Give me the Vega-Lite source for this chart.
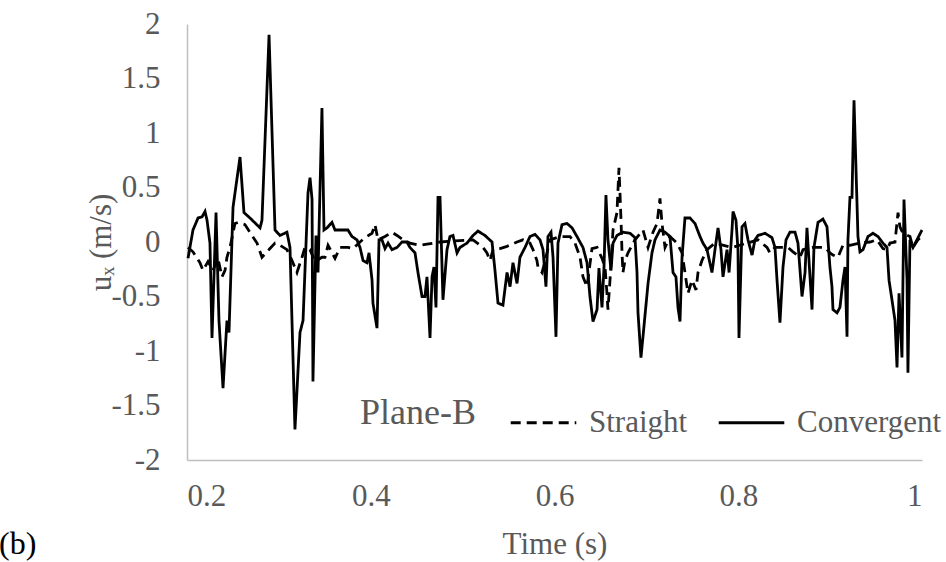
{
  "$schema": "https://vega.github.io/schema/vega-lite/v6.json",
  "width": 735,
  "height": 436,
  "autosize": {"type": "none"},
  "padding": {"left": 187, "top": 24, "right": 24, "bottom": 102},
  "background": "white",
  "title": {"text": "(b)", "orient": "bottom", "anchor": "start", "frame": "bounds", "font": "Liberation Serif", "fontSize": 32, "fontWeight": "normal", "color": "black", "dx": -86, "dy": -30, "offset": 0},
  "config": {
    "view": {"stroke": null},
    "font": "Liberation Serif",
    "axis": {"labelFont": "Liberation Serif", "titleFont": "Liberation Serif", "labelColor": "#595959", "titleColor": "#595959", "labelFontSize": 31, "titleFontSize": 31, "titleFontWeight": "normal", "domainColor": "#bfbfbf", "domainWidth": 1.5, "ticks": false, "grid": false},
    "legend": {"labelFont": "Liberation Serif", "titleFont": "Liberation Serif"}
  },
  "datasets": {
    "conv": [
      {"t":0.2011,"v":-0.15},{"t":0.2065,"v":0.11},{"t":0.2120,"v":0.22},{"t":0.2163,"v":0.23},{"t":0.2196,"v":0.28},{"t":0.2218,"v":0.20},{"t":0.2250,"v":-0.01},{"t":0.2272,"v":-0.88},{"t":0.2316,"v":0.27},{"t":0.2348,"v":-0.72},{"t":0.2392,"v":-1.34},{"t":0.2435,"v":-0.72},{"t":0.2457,"v":-0.83},{"t":0.2501,"v":0.32},{"t":0.2577,"v":0.78},{"t":0.2620,"v":0.27},{"t":0.2686,"v":0.22},{"t":0.2795,"v":0.13},{"t":0.2816,"v":0.20},{"t":0.2893,"v":1.90},{"t":0.2958,"v":0.11},{"t":0.3012,"v":0.06},{"t":0.3088,"v":0.09},{"t":0.3121,"v":-0.05},{"t":0.3175,"v":-1.72},{"t":0.3230,"v":-0.83},{"t":0.3263,"v":-0.72},{"t":0.3317,"v":0.45},{"t":0.3339,"v":0.59},{"t":0.3361,"v":0.39},{"t":0.3371,"v":-1.28},{"t":0.3404,"v":0.06},{"t":0.3426,"v":-0.28},{"t":0.3469,"v":1.23},{"t":0.3491,"v":0.11},{"t":0.3524,"v":0.13},{"t":0.3578,"v":0.18},{"t":0.3611,"v":0.11},{"t":0.3687,"v":0.11},{"t":0.3752,"v":0.11},{"t":0.3796,"v":0.05},{"t":0.3850,"v":0.02},{"t":0.3883,"v":-0.05},{"t":0.3916,"v":-0.17},{"t":0.3959,"v":-0.19},{"t":0.3981,"v":-0.10},{"t":0.4014,"v":-0.35},{"t":0.4024,"v":-0.56},{"t":0.4068,"v":-0.79},{"t":0.4090,"v":0.02},{"t":0.4122,"v":0.02},{"t":0.4155,"v":-0.06},{"t":0.4188,"v":-0.01},{"t":0.4231,"v":-0.07},{"t":0.4286,"v":-0.05},{"t":0.4340,"v":0.00},{"t":0.4394,"v":0.00},{"t":0.4427,"v":-0.05},{"t":0.4482,"v":-0.10},{"t":0.4514,"v":-0.28},{"t":0.4558,"v":-0.50},{"t":0.4590,"v":-0.50},{"t":0.4612,"v":-0.32},{"t":0.4645,"v":-0.88},{"t":0.4667,"v":-0.32},{"t":0.4688,"v":-0.23},{"t":0.4710,"v":-0.60},{"t":0.4732,"v":0.41},{"t":0.4754,"v":0.41},{"t":0.4786,"v":-0.53},{"t":0.4830,"v":-0.07},{"t":0.4862,"v":0.05},{"t":0.4895,"v":0.06},{"t":0.4939,"v":-0.10},{"t":0.4971,"v":-0.05},{"t":0.5048,"v":-0.01},{"t":0.5113,"v":0.06},{"t":0.5167,"v":0.10},{"t":0.5243,"v":0.06},{"t":0.5320,"v":0.00},{"t":0.5352,"v":-0.26},{"t":0.5385,"v":-0.56},{"t":0.5439,"v":-0.58},{"t":0.5483,"v":-0.28},{"t":0.5516,"v":-0.41},{"t":0.5548,"v":-0.19},{"t":0.5592,"v":-0.38},{"t":0.5624,"v":-0.14},{"t":0.5679,"v":-0.05},{"t":0.5733,"v":0.05},{"t":0.5788,"v":0.07},{"t":0.5842,"v":0.02},{"t":0.5875,"v":-0.07},{"t":0.5907,"v":-0.41},{"t":0.5929,"v":0.05},{"t":0.5962,"v":0.09},{"t":0.5984,"v":-0.14},{"t":0.6016,"v":-0.87},{"t":0.6038,"v":-0.01},{"t":0.6082,"v":0.16},{"t":0.6136,"v":0.17},{"t":0.6191,"v":0.13},{"t":0.6245,"v":0.05},{"t":0.6310,"v":-0.05},{"t":0.6354,"v":-0.19},{"t":0.6386,"v":-0.50},{"t":0.6419,"v":-0.73},{"t":0.6463,"v":-0.62},{"t":0.6484,"v":-0.24},{"t":0.6517,"v":-0.60},{"t":0.6539,"v":-0.23},{"t":0.6560,"v":0.43},{"t":0.6582,"v":0.02},{"t":0.6615,"v":-0.26},{"t":0.6637,"v":-0.01},{"t":0.6680,"v":0.06},{"t":0.6745,"v":0.09},{"t":0.6822,"v":0.08},{"t":0.6876,"v":0.04},{"t":0.6898,"v":-0.28},{"t":0.6909,"v":-0.65},{"t":0.6941,"v":-1.06},{"t":0.6963,"v":-0.87},{"t":0.7018,"v":-0.38},{"t":0.7061,"v":-0.10},{"t":0.7094,"v":0.02},{"t":0.7148,"v":0.11},{"t":0.7203,"v":0.09},{"t":0.7257,"v":0.05},{"t":0.7290,"v":-0.28},{"t":0.7322,"v":-0.32},{"t":0.7344,"v":-0.60},{"t":0.7366,"v":-0.73},{"t":0.7388,"v":-0.14},{"t":0.7420,"v":0.22},{"t":0.7475,"v":0.22},{"t":0.7529,"v":0.17},{"t":0.7584,"v":0.05},{"t":0.7616,"v":-0.01},{"t":0.7660,"v":-0.07},{"t":0.7714,"v":-0.28},{"t":0.7747,"v":-0.07},{"t":0.7780,"v":0.13},{"t":0.7812,"v":-0.07},{"t":0.7834,"v":-0.32},{"t":0.7878,"v":-0.07},{"t":0.7900,"v":-0.28},{"t":0.7932,"v":0.11},{"t":0.7943,"v":0.28},{"t":0.7975,"v":0.20},{"t":0.7997,"v":-0.07},{"t":0.8008,"v":-0.88},{"t":0.8041,"v":0.14},{"t":0.8073,"v":0.17},{"t":0.8106,"v":0.02},{"t":0.8150,"v":-0.12},{"t":0.8182,"v":0.02},{"t":0.8215,"v":0.06},{"t":0.8291,"v":0.08},{"t":0.8367,"v":0.04},{"t":0.8400,"v":-0.05},{"t":0.8422,"v":-0.35},{"t":0.8454,"v":-0.74},{"t":0.8487,"v":-0.23},{"t":0.8520,"v":0.02},{"t":0.8563,"v":0.09},{"t":0.8618,"v":0.09},{"t":0.8650,"v":-0.01},{"t":0.8694,"v":-0.50},{"t":0.8727,"v":-0.28},{"t":0.8748,"v":0.13},{"t":0.8781,"v":-0.32},{"t":0.8803,"v":-0.62},{"t":0.8824,"v":-0.05},{"t":0.8868,"v":0.18},{"t":0.8922,"v":0.21},{"t":0.8966,"v":0.14},{"t":0.8998,"v":-0.23},{"t":0.9020,"v":-0.41},{"t":0.9031,"v":-0.62},{"t":0.9075,"v":-0.65},{"t":0.9107,"v":-0.60},{"t":0.9140,"v":-0.35},{"t":0.9162,"v":-0.23},{"t":0.9184,"v":-0.87},{"t":0.9194,"v":0.02},{"t":0.9216,"v":0.41},{"t":0.9238,"v":0.41},{"t":0.9260,"v":1.30},{"t":0.9303,"v":0.05},{"t":0.9325,"v":-0.09},{"t":0.9358,"v":-0.07},{"t":0.9412,"v":0.05},{"t":0.9467,"v":0.08},{"t":0.9521,"v":0.05},{"t":0.9575,"v":-0.01},{"t":0.9619,"v":-0.05},{"t":0.9641,"v":-0.35},{"t":0.9673,"v":-0.53},{"t":0.9706,"v":-0.72},{"t":0.9728,"v":-1.15},{"t":0.9750,"v":-0.47},{"t":0.9782,"v":-1.06},{"t":0.9804,"v":0.39},{"t":0.9837,"v":-0.35},{"t":0.9847,"v":-1.20},{"t":0.9869,"v":0.02},{"t":0.9902,"v":-0.05},{"t":0.9945,"v":0.02},{"t":1.0,"v":0.11}
    ],
    "straight": [
      {"t":0.2011,"v":-0.05},{"t":0.2065,"v":-0.09},{"t":0.2141,"v":-0.19},{"t":0.2174,"v":-0.26},{"t":0.2229,"v":-0.18},{"t":0.2283,"v":-0.26},{"t":0.2337,"v":-0.15},{"t":0.2381,"v":-0.32},{"t":0.2414,"v":-0.26},{"t":0.2435,"v":-0.14},{"t":0.2468,"v":-0.05},{"t":0.2522,"v":0.17},{"t":0.2555,"v":0.18},{"t":0.2631,"v":0.16},{"t":0.2707,"v":0.06},{"t":0.2762,"v":-0.01},{"t":0.2816,"v":-0.14},{"t":0.2903,"v":-0.06},{"t":0.2958,"v":-0.01},{"t":0.3012,"v":-0.03},{"t":0.3088,"v":-0.07},{"t":0.3143,"v":-0.17},{"t":0.3197,"v":-0.28},{"t":0.3252,"v":-0.14},{"t":0.3284,"v":-0.05},{"t":0.3339,"v":-0.07},{"t":0.3393,"v":-0.18},{"t":0.3469,"v":-0.14},{"t":0.3502,"v":-0.14},{"t":0.3535,"v":-0.03},{"t":0.3611,"v":-0.15},{"t":0.3665,"v":-0.05},{"t":0.3752,"v":-0.05},{"t":0.3807,"v":-0.06},{"t":0.3883,"v":0.00},{"t":0.3937,"v":0.04},{"t":0.4014,"v":0.08},{"t":0.4046,"v":0.16},{"t":0.4079,"v":0.02},{"t":0.4155,"v":0.05},{"t":0.4231,"v":0.09},{"t":0.4286,"v":0.06},{"t":0.4351,"v":0.02},{"t":0.4427,"v":-0.01},{"t":0.4536,"v":-0.03},{"t":0.4612,"v":-0.02},{"t":0.4754,"v":0.00},{"t":0.4917,"v":0.01},{"t":0.5113,"v":0.02},{"t":0.5222,"v":-0.05},{"t":0.5265,"v":-0.10},{"t":0.5298,"v":-0.17},{"t":0.5331,"v":-0.07},{"t":0.5407,"v":-0.06},{"t":0.5483,"v":-0.04},{"t":0.5592,"v":0.00},{"t":0.5657,"v":0.02},{"t":0.5733,"v":-0.01},{"t":0.5766,"v":-0.07},{"t":0.5809,"v":-0.17},{"t":0.5820,"v":-0.23},{"t":0.5864,"v":-0.28},{"t":0.5896,"v":-0.18},{"t":0.5951,"v":0.02},{"t":0.6060,"v":0.05},{"t":0.6169,"v":0.05},{"t":0.6223,"v":-0.01},{"t":0.6278,"v":-0.14},{"t":0.6310,"v":-0.32},{"t":0.6354,"v":-0.41},{"t":0.6408,"v":-0.06},{"t":0.6463,"v":-0.05},{"t":0.6517,"v":-0.15},{"t":0.6550,"v":-0.23},{"t":0.6571,"v":-0.47},{"t":0.6582,"v":-0.62},{"t":0.6604,"v":-0.35},{"t":0.6637,"v":0.11},{"t":0.6680,"v":0.27},{"t":0.6691,"v":0.48},{"t":0.6702,"v":0.68},{"t":0.6724,"v":0.20},{"t":0.6735,"v":-0.10},{"t":0.6745,"v":-0.28},{"t":0.6767,"v":-0.17},{"t":0.6800,"v":-0.10},{"t":0.6876,"v":0.02},{"t":0.6963,"v":0.11},{"t":0.7018,"v":-0.05},{"t":0.7072,"v":0.09},{"t":0.7116,"v":0.17},{"t":0.7148,"v":0.40},{"t":0.7170,"v":0.17},{"t":0.7203,"v":-0.05},{"t":0.7257,"v":0.05},{"t":0.7333,"v":-0.01},{"t":0.7388,"v":-0.10},{"t":0.7420,"v":-0.28},{"t":0.7453,"v":-0.47},{"t":0.7497,"v":-0.35},{"t":0.7540,"v":-0.44},{"t":0.7562,"v":-0.28},{"t":0.7605,"v":-0.17},{"t":0.7660,"v":-0.07},{"t":0.7747,"v":-0.01},{"t":0.7932,"v":-0.05},{"t":0.8095,"v":-0.01},{"t":0.8215,"v":0.02},{"t":0.8313,"v":-0.05},{"t":0.8345,"v":-0.10},{"t":0.8400,"v":-0.05},{"t":0.8541,"v":-0.05},{"t":0.8596,"v":-0.09},{"t":0.8672,"v":-0.14},{"t":0.8705,"v":-0.07},{"t":0.8814,"v":-0.05},{"t":0.8944,"v":-0.05},{"t":0.8998,"v":-0.10},{"t":0.9031,"v":-0.12},{"t":0.9085,"v":-0.14},{"t":0.9140,"v":-0.03},{"t":0.9216,"v":-0.03},{"t":0.9325,"v":-0.01},{"t":0.9434,"v":0.00},{"t":0.9510,"v":0.02},{"t":0.9575,"v":-0.06},{"t":0.9619,"v":-0.07},{"t":0.9652,"v":-0.01},{"t":0.9706,"v":0.00},{"t":0.9739,"v":0.27},{"t":0.9760,"v":0.14},{"t":0.9793,"v":0.08},{"t":0.9869,"v":0.05},{"t":0.9902,"v":-0.05},{"t":0.9956,"v":0.02},{"t":1.0,"v":0.06}
    ]
  },
  "layer": [
    {
      "data": {"name": "straight"},
      "transform": [{"calculate": "'Straight'", "as": "series"}],
      "mark": {"type": "line", "color": "black", "strokeWidth": 2.8, "interpolate": "linear"},
      "encoding": {
        "x": {"field": "t", "type": "quantitative", "scale": {"domain": [0.2, 1]}, "axis": {"title": "Time (s)", "values": [0.2, 0.4, 0.6, 0.8, 1], "labelExpr": "datum.value + ''", "labelPadding": 21, "titlePadding": 18}},
        "y": {"field": "v", "type": "quantitative", "scale": {"domain": [-2, 2]}, "axis": {"title": "uₓ (m/s)", "values": [-2, -1.5, -1, -0.5, 0, 0.5, 1, 1.5, 2], "labelExpr": "datum.value + ''", "labelPadding": 27, "titleX": -70}},
        "strokeDash": {"field": "series", "type": "nominal", "scale": {"domain": ["Straight", "Convergent"], "range": [[10, 6], [1, 0]]},
          "legend": {"title": "Plane-B", "orient": "none", "legendX": 173, "legendY": 364, "direction": "horizontal", "titleOrient": "left", "titleFontSize": 36, "titleFontWeight": "normal", "titleColor": "#595959", "titleAnchor": "middle", "titleBaseline": "middle", "titlePadding": 33, "labelFontSize": 31, "labelColor": "#595959", "symbolType": "stroke", "symbolSize": 4300, "symbolStrokeWidth": 2.8, "symbolStrokeColor": "black", "labelOffset": 11, "columnPadding": 25}}
      }
    },
    {
      "data": {"name": "conv"},
      "transform": [{"calculate": "'Convergent'", "as": "series"}],
      "mark": {"type": "line", "color": "black", "strokeWidth": 2.8, "interpolate": "linear"},
      "encoding": {
        "x": {"field": "t", "type": "quantitative"},
        "y": {"field": "v", "type": "quantitative"},
        "strokeDash": {"field": "series", "type": "nominal"}
      }
    }
  ]
}
